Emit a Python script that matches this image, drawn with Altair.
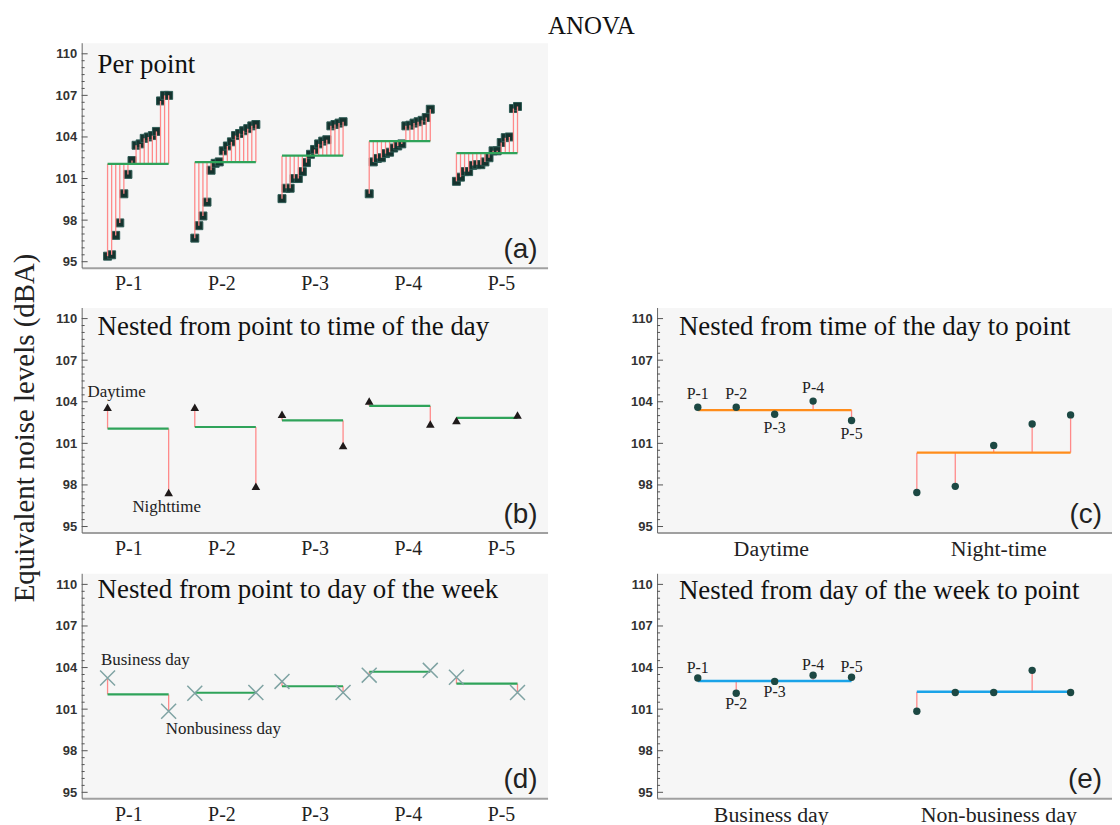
import json
import altair as alt
import pandas as pd

# ---------------- data ----------------
point_names = ["P-1", "P-2", "P-3", "P-4", "P-5"]
p1_levels = [95.4, 95.5, 96.9, 97.8, 99.9, 101.3, 102.3, 103.4, 103.5, 103.9, 104.0, 104.1, 104.4, 106.6, 107.0, 107.0]
p2_levels = [96.7, 97.6, 98.3, 99.3, 101.6, 102.1, 102.2, 103.0, 103.35, 103.65, 104.1, 104.25, 104.45, 104.6, 104.8, 104.9]
p3_levels = [99.55, 100.3, 100.3, 101.0, 101.0, 101.5, 102.15, 102.75, 103.1, 103.5, 103.7, 103.8, 104.8, 104.9, 105.0, 105.1]
p4_levels = [99.9, 102.2, 102.45, 102.5, 102.8, 102.9, 103.2, 103.35, 103.5, 104.8, 104.85, 105.0, 105.1, 105.2, 105.4, 106.0]
p5_levels = [100.8, 101.1, 101.5, 101.5, 101.95, 102.0, 102.0, 102.2, 102.5, 103.0, 103.0, 103.6, 103.95, 104.0, 106.05, 106.2]

time_names = ["Daytime", "Nighttime"]
time_axis_labels = ["Daytime", "Night-time"]
daytime_levels = [103.6, 103.6, 103.1, 104.05, 102.65]
nighttime_levels = [97.45, 97.9, 100.85, 102.4, 103.05]

week_names = ["Business day", "Nonbusiness day"]
week_axis_labels = ["Business day", "Non-business day"]
business_levels = [103.25, 102.15, 103.0, 103.45, 103.3]
nonbusiness_levels = [100.85, 102.2, 102.2, 103.8, 102.2]

major_ticks = [95, 98, 101, 104, 107, 110]
minor_ticks = [95.5, 96, 96.5, 97, 97.5, 98.5, 99, 99.5, 100, 100.5, 101.5, 102, 102.5,
               103, 103.5, 104.5, 105, 105.5, 106, 106.5, 107.5, 108, 108.5, 109, 109.5]

y_title = "Equivalent noise levels (dBA)"
panel_titles = ["Per point", "Nested from point to time of the day", "Nested from time of the day to point",
                "Nested from point to day of the week", "Nested from day of the week to point"]
panel_letters = ["(a)", "(b)", "(c)", "(d)", "(e)"]

# ---------------- style / layout ----------------
SERIF = "Liberation Serif"
SANS = "Liberation Sans"
RED = "#ff8a8a"
GREEN = "#2fa35a"
ORANGE = "#ff8c1a"
BLUE = "#1aa3e8"
SQUARE = "#15332e"
TRI = "#1f1a1a"
XMARK = "#7fa3a3"
DOT = "#1c4843"
PANEL_BG = "#f6f6f6"

LW, RW, H = 468, 457, 226
A_START, A_STEP, A_OBS = 0.278, 0.936, 0.0437
A_SPAN = 15 * A_OBS
R_START, R_STEP, R_OBS = 0.179, 0.963, 0.169

YSCALE = alt.Scale(domain=[94.57, 110.8], nice=False, zero=False)


def y_axis():
    return alt.Axis(values=major_ticks, ticks=False, grid=False, labelFont=SANS, labelFontWeight="bold",
                    labelFontSize=13, labelColor="#333", labelPadding=5, domainColor="#666", domainWidth=1,
                    title=None)


def x_axis(n, labels, size):
    return alt.Axis(values=[i + 0.5 for i in range(n)],
                    labelExpr=json.dumps(labels) + "[floor(datum.value)]",
                    ticks=False, grid=False, domainColor="#a0a0a0", domainWidth=2,
                    labelFont=SERIF, labelFontSize=size, labelColor="#222", labelPadding=6, title=None)


def tick_layers(yax):
    maj = alt.Chart(pd.DataFrame({"v": major_ticks})).mark_rule(color="#555", strokeWidth=1).encode(
        y=alt.Y("v:Q", scale=YSCALE, axis=yax), x=alt.value(0), x2=alt.value(6))
    mnr = alt.Chart(pd.DataFrame({"v": minor_ticks})).mark_rule(color="#555", strokeWidth=1).encode(
        y=alt.Y("v:Q", scale=YSCALE, axis=yax), x=alt.value(0), x2=alt.value(3))
    return [maj, mnr]


def decor(idx, width, ty):
    t = alt.Chart(pd.DataFrame({"t": [panel_titles[idx]]})).mark_text(
        align="left", baseline="alphabetic", font=SERIF, fontSize=27, color="#111").encode(
        text="t:N", x=alt.value(16 if width == LW else 22), y=alt.value(ty))
    l = alt.Chart(pd.DataFrame({"t": [panel_letters[idx]]})).mark_text(
        align="right", baseline="alphabetic", font=SANS, fontSize=28, color="#222").encode(
        text="t:N", x=alt.value(width - 10), y=alt.value(H - 10))
    return [t, l]


VIEW = alt.ViewBackground(fill=PANEL_BG, strokeOpacity=0)
WHITE_VIEW = alt.ViewBackground(fill="white", strokeOpacity=0)

# ---------------- (a) per point ----------------
rows = []
for g, (name, lv) in enumerate(zip(point_names, [p1_levels, p2_levels, p3_levels, p4_levels, p5_levels])):
    for j, v in enumerate(lv):
        rows.append({"point": name, "g": g, "j": j, "level": v})
df_a = pd.DataFrame(rows)
point_mean = df_a.groupby("point")["level"].mean()

XA = alt.Scale(domain=[0, 5], nice=False, zero=False)
xax_left = x_axis(5, point_names, 20)
ya = y_axis()

base_a = alt.Chart(df_a).transform_calculate(
    xpos=f"{A_START} + {A_STEP}*datum.g + {A_OBS}*datum.j").transform_joinaggregate(
    pmean="mean(level)", groupby=["point"])
sq = base_a.mark_square(size=64, color=SQUARE, stroke="#2d5c55", strokeWidth=1, opacity=1).encode(
    x=alt.X("xpos:Q", scale=XA, axis=xax_left), y=alt.Y("level:Q", scale=YSCALE, axis=ya))
red_a = base_a.mark_rule(color=RED, strokeWidth=1.3).encode(
    x=alt.X("xpos:Q", scale=XA, axis=xax_left), y=alt.Y("level:Q", scale=YSCALE, axis=ya), y2="pmean:Q")
green_a = base_a.transform_aggregate(x0="min(xpos)", x1="max(xpos)", m="mean(level)", groupby=["point"]).mark_rule(
    color=GREEN, strokeWidth=2.2).encode(
    x=alt.X("x0:Q", scale=XA, axis=xax_left), x2="x1:Q", y=alt.Y("m:Q", scale=YSCALE, axis=ya))
panel_a = alt.layer(*tick_layers(ya), sq, red_a, green_a, *decor(0, LW, 30)).properties(
    width=LW, height=H, view=VIEW)


# ---------------- (b), (d) nested from point ----------------
def nested_from_point(names, lv0, lv1, marker, idx, ty, dx0, dy0, dx1, dy1):
    rows = []
    for g, name in enumerate(point_names):
        for p, lv in enumerate([lv0, lv1]):
            rows.append({"point": name, "g": g, "p": p, "label": names[p], "level": lv[g],
                         "pmean": float(point_mean[name])})
    df = pd.DataFrame(rows)
    yax = y_axis()
    base = alt.Chart(df).transform_calculate(xpos=f"{A_START} + {A_STEP}*datum.g + {A_SPAN}*datum.p")
    X = lambda f: alt.X(f, scale=XA, axis=xax_left)
    Y = lambda f: alt.Y(f, scale=YSCALE, axis=yax)
    red = base.mark_rule(color=RED, strokeWidth=1.3).encode(x=X("xpos:Q"), y=Y("level:Q"), y2="pmean:Q")
    green = base.transform_aggregate(x0="min(xpos)", x1="max(xpos)", m="mean(pmean)", groupby=["point"]).mark_rule(
        color=GREEN, strokeWidth=2.2).encode(x=X("x0:Q"), x2="x1:Q", y=Y("m:Q"))
    marks = base.mark_point(**marker).encode(x=X("xpos:Q"), y=Y("level:Q"))
    lab0 = base.transform_filter("datum.g == 0 && datum.p == 0").mark_text(
        font=SERIF, fontSize=17, color="#222", dx=dx0, dy=dy0).encode(x=X("xpos:Q"), y=Y("level:Q"), text="label:N")
    lab1 = base.transform_filter("datum.g == 0 && datum.p == 1").mark_text(
        font=SERIF, fontSize=17, color="#222", dx=dx1, dy=dy1).encode(x=X("xpos:Q"), y=Y("level:Q"), text="label:N")
    return alt.layer(*tick_layers(yax), red, green, marks, lab0, lab1, *decor(idx, LW, ty)).properties(
        width=LW, height=H, view=VIEW)


panel_b = nested_from_point(time_names, daytime_levels, nighttime_levels,
                            dict(shape="triangle-up", filled=True, size=75, color=TRI, opacity=1),
                            1, 28, 9, -15, -2, 15)
panel_d = nested_from_point(week_names, business_levels, nonbusiness_levels,
                            dict(shape="M-1,-1L1,1M-1,1L1,-1", filled=False, size=225, color=XMARK,
                                 strokeWidth=1.5, opacity=1),
                            3, 25, 38, -18, 55, 18)

# ---------------- (c), (e) nested to point ----------------
XR = alt.Scale(domain=[0, 2], nice=False, zero=False)


def nested_to_point(axis_labels, lv0, lv1, line_color, idx, ty, up, down):
    rows = []
    for t, lv in enumerate([lv0, lv1]):
        for j, name in enumerate(point_names):
            rows.append({"t": t, "j": j, "point": name, "level": lv[j]})
    df = pd.DataFrame(rows)
    yax = y_axis()
    xax = x_axis(2, axis_labels, 22)
    X = lambda f: alt.X(f, scale=XR, axis=xax)
    Y = lambda f: alt.Y(f, scale=YSCALE, axis=yax)
    base = alt.Chart(df).transform_calculate(
        xpos=f"{R_START} + {R_STEP}*datum.t + {R_OBS}*datum.j").transform_joinaggregate(
        tmean="mean(level)", groupby=["t"])
    red = base.mark_rule(color=RED, strokeWidth=1.3).encode(x=X("xpos:Q"), y=Y("level:Q"), y2="tmean:Q")
    line = base.transform_aggregate(x0="min(xpos)", x1="max(xpos)", m="mean(level)", groupby=["t"]).mark_rule(
        color=line_color, strokeWidth=2.4).encode(x=X("x0:Q"), x2="x1:Q", y=Y("m:Q"))
    dots = base.mark_circle(size=55, color=DOT, opacity=1).encode(x=X("xpos:Q"), y=Y("level:Q"))
    lab_up = base.transform_filter("datum.t == 0 && datum.level > datum.tmean").mark_text(
        font=SERIF, fontSize=16, color="#222", dy=up).encode(x=X("xpos:Q"), y=Y("level:Q"), text="point:N")
    lab_dn = base.transform_filter("datum.t == 0 && datum.level <= datum.tmean").mark_text(
        font=SERIF, fontSize=16, color="#222", dy=down).encode(x=X("xpos:Q"), y=Y("level:Q"), text="point:N")
    return alt.layer(*tick_layers(yax), red, line, dots, lab_up, lab_dn, *decor(idx, RW, ty)).properties(
        width=RW, height=H, view=VIEW)


panel_c = nested_to_point(time_axis_labels, daytime_levels, nighttime_levels, ORANGE, 2, 28, -13, 14)
panel_e = nested_to_point(week_axis_labels, business_levels, nonbusiness_levels, BLUE, 4, 26, -10, 11)

blank = alt.Chart(pd.DataFrame({"v": [0]})).mark_point(opacity=0).encode(
    x=alt.value(0), y=alt.value(0)).properties(width=RW, height=H, view=WHITE_VIEW)

grid = alt.concat(panel_a, blank, panel_b, panel_c, panel_d, panel_e, columns=2,
                  spacing={"row": 14, "column": 83})

ytitle_chart = alt.Chart(pd.DataFrame({"t": [y_title]})).mark_text(
    angle=270, align="center", baseline="middle", font=SERIF, fontSize=29, color="#222").encode(
    text="t:N", x=alt.value(10), y=alt.value(387)).properties(width=26, height=760, view=WHITE_VIEW)

chart = alt.hconcat(ytitle_chart, grid, spacing=14).properties(
    title=alt.TitleParams("ANOVA", font=SERIF, fontSize=25, fontWeight="normal", color="#111",
                          anchor="middle", dx=30, offset=1),
    padding={"left": 2, "top": 4, "right": 0, "bottom": 0},
).configure_axis(grid=False)

chart.save("out.html", embed_options={"renderer": "svg", "actions": False})
